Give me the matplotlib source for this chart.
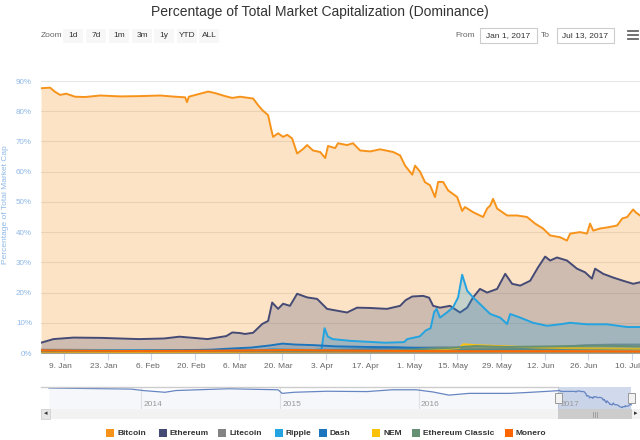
#!/usr/bin/env python3
"""Percentage of total market capitalization (dominance), Jan 1 - Jul 13 2017."""

import matplotlib

matplotlib.use("Agg")
import matplotlib.pyplot as plt
import numpy as np
import pandas as pd
from matplotlib.patches import Rectangle

plt.rcParams["font.family"] = ["Liberation Sans", "DejaVu Sans"]

# ---- data: x = days since Jan 1 2017, y = % of total market cap ----
btc_days = [0.6, 3.5, 5, 6.7, 8.7, 11.5, 14.7, 19.6, 26, 32.4, 38.8, 43.6, 46.8, 47.4, 48,
            51.6, 54.2, 56.4, 59.6, 61.9, 64.4, 68.6, 70.2, 71.5, 73.4, 74.4, 75, 76.6, 78.2,
            79.5, 81.1, 82.7, 84.6, 85.9, 87.8, 90.1, 91.7, 92.6, 94.9, 95.8, 98.7, 100.6,
            102.9, 106.1, 109.3, 113.5, 115.7, 117.3, 119.6, 120.5, 122.1, 123.7, 125.3,
            126.9, 127.9, 129.5, 131.1, 134, 135.6, 136.5, 139.1, 142.3, 143.6, 144.6, 145.5,
            146.8, 150, 153.2, 156.4, 159, 161.5, 163.8, 167, 169.2, 170.2, 173.4, 175.6,
            176.6, 177.6, 179.8, 182.4, 185.3, 186.9, 188.5, 190.4, 191.3, 192.6]
btc_vals = [87.6, 87.8, 86.5, 85.4, 85.8, 84.8, 84.7, 85.2, 84.9, 85.0, 85.2, 84.8, 84.6, 83.0,
            84.8, 85.8, 86.5, 86.0, 85.0, 84.4, 84.8, 84.2, 82.0, 80.4, 78.7, 74.0, 71.5, 72.7,
            71.5, 72.2, 71.0, 66.0, 67.5, 68.8, 67.0, 66.5, 64.5, 68.5, 67.8, 69.4, 68.8, 69.4,
            67.0, 66.7, 67.4, 66.5, 65.4, 62.0, 59.0, 62.0, 60.0, 56.5, 55.5, 51.6, 56.6, 56.6,
            53.8, 51.6, 47.0, 48.3, 46.6, 45.0, 47.8, 48.8, 51.0, 47.8, 45.5, 45.5, 45.0, 42.8,
            41.2, 38.9, 38.3, 37.2, 39.5, 40.0, 39.5, 42.8, 40.5, 41.2, 41.6, 42.2, 44.5, 45.0,
            47.5, 46.5, 45.5]

eth_days = [0.6, 4.6, 11, 20, 32, 40, 45, 54, 60, 61.9, 64.4, 66, 68.6, 71.5, 73.4, 74.7,
            76.6, 78.2, 80.4, 82.7, 85.9, 89.1, 92.3, 95.5, 98.7, 101.9, 106.1, 111.5, 115.7,
            117.5, 119.6, 123.1, 125, 126.3, 128.5, 131.7, 134.9, 137.2, 139.1, 141.3, 143.6,
            146.8, 149.4, 151.6, 154.2, 157.4, 159.9, 162.2, 163.8, 166, 169.2, 172.4, 175,
            177.2, 178.2, 180.8, 183.9, 187.2, 190.4, 192.6]
eth_vals = [3.4, 4.6, 5.1, 5.0, 4.6, 4.8, 5.4, 4.6, 5.6, 6.8, 6.6, 6.3, 6.7, 9.6, 10.6, 16.7,
            14.6, 16.3, 15.6, 19.6, 18.4, 17.9, 14.6, 14.0, 13.4, 15.0, 14.9, 14.6, 15.6, 17.5,
            18.7, 18.9, 18.3, 15.6, 15.0, 15.6, 13.4, 15.0, 18.4, 21.2, 20.0, 21.2, 26.2, 22.9,
            22.3, 23.9, 28.3, 31.9, 30.6, 31.6, 30.6, 27.9, 26.7, 24.6, 27.9, 26.2, 25.0, 23.9,
            22.9, 23.4]

ltc_days = [0.6, 40, 70, 90, 110, 120, 130, 140, 155, 165, 175, 185, 192.6]
ltc_vals = [1.1, 0.9, 0.9, 0.9, 1.4, 1.8, 1.9, 1.6, 1.6, 1.9, 2.6, 2.8, 2.8]

xrp_days = [0.6, 20, 40, 55, 62, 70, 75, 80, 88, 90.5, 91.5, 92.5, 94, 100, 111, 117, 118,
            122, 124, 125.5, 126.6, 127.4, 128.5, 130.7, 132.6, 134.3, 135.6, 137.2, 139.1,
            141.3, 144.6, 147.8, 150, 151, 154.2, 158.3, 162.8, 167, 170.2, 175.6, 182, 188.5,
            192.6]
xrp_vals = [0.9, 1.0, 0.9, 0.8, 0.7, 0.9, 1.2, 1.1, 1.0, 1.2, 8.2, 5.5, 4.6, 4.0, 3.4, 3.6,
            4.6, 5.5, 7.5, 8.2, 13.5, 14.6, 11.7, 13.4, 15.0, 18.4, 25.9, 20.6, 18.4, 16.2,
            12.9, 11.7, 9.6, 12.9, 11.7, 10.0, 9.0, 9.5, 10.0, 9.5, 9.5, 8.6, 8.6]

dash_days = [0.6, 30, 45, 55, 62, 68, 74, 78, 82, 88, 95, 105, 115, 125, 135, 150, 160, 175,
             192.6]
dash_vals = [0.6, 0.7, 0.9, 1.1, 1.5, 1.8, 2.5, 3.1, 2.8, 2.6, 2.2, 2.0, 1.9, 1.5, 1.1, 1.2,
             1.3, 1.3, 1.3]

xem_days = [0.6, 80, 115, 125.5, 130, 134.5, 136, 140, 150, 160, 170, 192.6]
xem_vals = [0.25, 0.4, 0.7, 1.2, 1.3, 1.6, 2.9, 2.6, 2.2, 1.8, 1.6, 1.4]

etc_days = [0.6, 50, 80, 110, 130, 140, 150, 165, 180, 192.6]
etc_vals = [0.6, 0.7, 0.6, 0.7, 1.6, 2.3, 2.0, 2.2, 2.4, 2.2]

xmr_days = [0.6, 30, 60, 80, 100, 130, 150, 170, 192.6]
xmr_vals = [0.9, 0.7, 0.8, 1.0, 0.8, 0.6, 0.6, 0.6, 0.5]

series_names = ["Bitcoin", "Ethereum", "Litecoin", "Ripple", "Dash", "NEM",
                "Ethereum Classic", "Monero"]
series_colors = ["#f7931a", "#454a75", "#838383", "#23a3e0", "#1c75bc", "#fbc10b",
                 "#669073", "#ff6600"]

tick_days = [8, 22, 36, 50, 64, 78, 92, 106, 120, 134, 148, 162, 176, 190]
tick_labels = ["9. Jan", "23. Jan", "6. Feb", "20. Feb", "6. Mar", "20. Mar", "3. Apr",
               "17. Apr", "1. May", "15. May", "29. May", "12. Jun", "26. Jun", "10. Jul"]

# navigator: bitcoin dominance history before 2017
nav_dates = ["2013-05-04", "2013-12-06", "2014-01-06", "2014-03-05", "2014-04-03",
             "2014-08-20", "2014-12-27", "2015-01-07", "2015-02-07", "2015-05-05",
             "2015-08-18", "2015-10-23", "2015-12-25", "2016-02-07", "2016-03-20",
             "2016-05-12", "2016-08-28", "2016-10-22", "2016-12-31"]
nav_vals = [95.0, 91.9, 87.6, 82.4, 87.6, 92.9, 89.8, 79.2, 82.4, 85.5, 84.5, 89.8, 89.8,
            83.4, 74.0, 79.2, 79.2, 82.4, 87.0]
nav_years = ["2014", "2015", "2016", "2017"]

W, H = 640, 440


def px_rect(x0, y0, x1, y1):
    return [x0 / W, 1 - y1 / H, (x1 - x0) / W, (y1 - y0) / H]


def fx(x):
    return x / W


def fy(y):
    return 1 - y / H


fig = plt.figure(figsize=(6.4, 4.4), dpi=100)
fig.patch.set_facecolor("white")

# ---- main chart ----
ax = fig.add_axes(px_rect(41, 81, 640, 353))
all_days = [btc_days, eth_days, ltc_days, xrp_days, dash_days, xem_days, etc_days, xmr_days]
all_vals = [btc_vals, eth_vals, ltc_vals, xrp_vals, dash_vals, xem_vals, etc_vals, xmr_vals]
for i, (d, v) in enumerate(zip(all_days, all_vals)):
    c = series_colors[i]
    ax.fill_between(d, 0, v, color=c, alpha=0.25, lw=0, zorder=2 + i)
    ax.plot(d, v, color=c, lw=1.4, zorder=2 + i, solid_joinstyle="round")

ax.set_xlim(0.6, 192.6)
ax.set_ylim(0, 90)
ax.set_yticks(np.arange(0, 91, 10))
ax.set_yticklabels([f"{t}%" for t in range(0, 91, 10)])
# tick marks on the dates, labels nudged a touch left (as in the source chart)
ax.set_xticks(tick_days)
ax.set_xticklabels([])
ax.set_xticks([d - 1.3 for d in tick_days], minor=True)
ax.set_xticklabels(tick_labels, minor=True)
ax.grid(axis="y", color="#e6e6e6", lw=0.8, zorder=1)
ax.set_axisbelow(True)
for s in ["top", "right", "left"]:
    ax.spines[s].set_visible(False)
ax.spines["bottom"].set_color("#ccd6eb")
ax.tick_params(axis="y", length=0, labelsize=5.8, labelcolor="#8fb8e6", pad=6.5)
ax.tick_params(axis="x", which="major", length=5, color="#ccd6eb")
ax.tick_params(axis="x", which="minor", length=0, labelsize=6.0, labelcolor="#666666",
               pad=7)
ax.set_facecolor("none")
fig.text(fx(6), fy(205), "Percentage of Total Market Cap", rotation=90, fontsize=6,
         color="#8fb8e6", ha="center", va="center")

# ---- title & controls ----
fig.text(0.5, fy(12), "Percentage of Total Market Capitalization (Dominance)",
         fontsize=10, color="#333333", ha="center", va="center")
fig.text(fx(41), fy(35.5), "Zoom", fontsize=6, color="#666666", ha="left", va="center")
btn_x = [73, 96, 119, 142, 164, 187, 209]
btn_lbl = ["1d", "7d", "1m", "3m", "1y", "YTD", "ALL"]
for bx, bl in zip(btn_x, btn_lbl):
    fig.add_artist(Rectangle((fx(bx - 10), fy(43)), 20 / W, 14 / H, transform=fig.transFigure,
                             facecolor="#f7f7f7", edgecolor="none"))
    fig.text(fx(bx), fy(35.5), bl, fontsize=6, color="#333333", ha="center", va="center")
fig.text(fx(475), fy(35.5), "From", fontsize=6, color="#666666", ha="right", va="center")
fig.text(fx(550), fy(35.5), "To", fontsize=6, color="#666666", ha="right", va="center")
for x0, x1, lbl in [(480, 537, "Jan 1, 2017"), (557, 614, "Jul 13, 2017")]:
    fig.add_artist(Rectangle((fx(x0), fy(43)), (x1 - x0) / W, 15 / H, transform=fig.transFigure,
                             facecolor="white", edgecolor="#cccccc", lw=0.8))
    fig.text(fx((x0 + x1) / 2), fy(35.5), lbl, fontsize=6, color="#333333", ha="center",
             va="center")
for yy in [31.5, 35.5, 39.5]:
    fig.add_artist(plt.Line2D([fx(628), fx(638)], [fy(yy), fy(yy)], color="#666666", lw=1.3))

# ---- navigator ----
nav = fig.add_axes(px_rect(41, 387, 640, 409))
nd = pd.to_datetime(nav_dates).tolist() + [pd.Timestamp("2017-01-01") + pd.Timedelta(days=d)
                                            for d in btc_days]
nv = nav_vals + btc_vals
nav.fill_between(nd, 0, nv, color="#6685c2", alpha=0.06, lw=0)
nav.plot(nd, nv, color="#6685c2", lw=0.9)
px_per_day = 417 / 1096
left = pd.Timestamp("2014-01-01") - pd.Timedelta(days=100 / px_per_day)
right = pd.Timestamp("2017-01-01") + pd.Timedelta(days=82 / px_per_day)
nav.set_xlim(left, right)
nav.set_ylim(33, 98)
for yr in nav_years:
    d = pd.Timestamp(f"{yr}-01-01")
    nav.axvline(d, color="#e6e6e6", lw=0.8, zorder=0)
    nav.text(d + pd.Timedelta(days=6), 36, yr, fontsize=6, color="#999999", ha="left",
             va="bottom")
sel0, sel1 = pd.Timestamp("2017-01-01"), pd.Timestamp("2017-07-13")
nav.axvspan(sel0, sel1, color="#6685c2", alpha=0.3, lw=0)
nav.set_xticks([])
nav.set_yticks([])
for s in nav.spines.values():
    s.set_visible(False)
nav.set_facecolor("none")
fig.add_artist(plt.Line2D([fx(41), fx(558)], [fy(387), fy(387)], color="#cccccc", lw=1))
for hx in [558, 631]:
    fig.add_artist(Rectangle((fx(hx - 3), fy(403)), 7 / W, 10 / H, transform=fig.transFigure,
                             facecolor="#f2f2f2", edgecolor="#999999", lw=0.7))

# scrollbar
fig.add_artist(Rectangle((fx(41), fy(419)), 599 / W, 10 / H, transform=fig.transFigure,
                         facecolor="#f2f2f2", edgecolor="none"))
fig.add_artist(Rectangle((fx(558), fy(419)), 74 / W, 10 / H, transform=fig.transFigure,
                         facecolor="#cccccc", edgecolor="none"))
fig.add_artist(Rectangle((fx(41), fy(419)), 9 / W, 10 / H, transform=fig.transFigure,
                         facecolor="#e6e6e6", edgecolor="#cccccc", lw=0.5))
fig.text(fx(45.5), fy(414), "◂", fontsize=5, color="#333333", ha="center", va="center")
fig.text(fx(636), fy(414), "▸", fontsize=5, color="#333333", ha="center", va="center")
for gx in [593, 595, 597]:
    fig.add_artist(plt.Line2D([fx(gx), fx(gx)], [fy(411.5), fy(416.5)], color="#999999",
                              lw=0.6))

# ---- legend ----
leg_sq = [106, 159, 218, 275, 319, 372, 412, 505]
for sx, name, c in zip(leg_sq, series_names, series_colors):
    fig.add_artist(Rectangle((fx(sx), fy(437)), 8 / W, 8 / H, transform=fig.transFigure,
                             facecolor=c, edgecolor="none"))
    fig.text(fx(sx + 11), fy(433), name, fontsize=6, color="#333333", fontweight="bold",
             ha="left", va="center")

fig.savefig("out.png", dpi=100)
